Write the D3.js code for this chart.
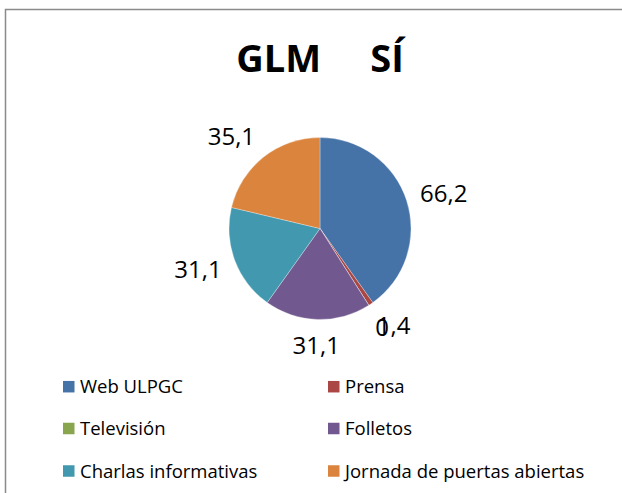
<!DOCTYPE html>
<html>
<head>
<meta charset="utf-8">
<script src="https://cdn.jsdelivr.net/npm/d3@7"></script>
<style>
    body { margin: 0; background: #fff; }
    svg text { font-family: "Open Sans", sans-serif; white-space: pre; }
</style>
</head>
<body>
<div id="chart"></div>
<script>

// Data
const title = "GLM     SÍ";
const categories = ["Web ULPGC", "Prensa", "Televisión", "Folletos",
                    "Charlas informativas", "Jornada de puertas abiertas"];
const values = [66.2, 1.4, 0, 31.1, 31.1, 35.1];
const colors = ["#4572A7", "#AA4643", "#89A54E", "#71588F", "#4198AF", "#DB843D"];

const width = 622, height = 493;
const cx = 320, cy = 228.5, radius = 91;

const svg = d3.select("#chart")
    .append("svg")
        .attr("width", width)
        .attr("height", height);

// Chart frame (only top and left edges are visible)
svg.append("path")
    .attr("d", "M5.5," + height + "V9.5H" + width)
    .attr("fill", "none")
    .attr("stroke", "#8a8a8a")
    .attr("stroke-width", 1.5);

// Title
svg.append("text")
    .attr("x", 320)
    .attr("y", 72)
    .attr("text-anchor", "middle")
    .attr("font-size", 38)
    .attr("font-weight", "bold")
    .attr("fill", "#000")
    .text(title);

let data = categories.map((c, i) => ({ name: c, value: values[i], color: colors[i] }));

let pie = d3.pie()
    .sort(null)
    .value(d => d.value);

let arc = d3.arc()
    .innerRadius(0)
    .outerRadius(radius);

let arcs = pie(data);

let g = svg.append("g")
    .attr("transform", "translate(" + cx + "," + cy + ")");

g.selectAll("path")
    .data(arcs)
    .enter().append("path")
        .attr("d", arc)
        .attr("fill", d => d.data.color)
        .attr("stroke", "#fff")
        .attr("stroke-opacity", 0.5)
        .attr("stroke-width", 0.6);

// Data labels, placed outside the slice like Excel does
let fmt = d3.formatLocale({decimal: ",", thousands: ".", grouping: [3], currency: ["", "€"]})
    .format("~g");

let gap = 14, hh = 12;
let clamp = v => Math.max(-1, Math.min(1, v));

g.selectAll("text.label")
    .data(arcs)
    .enter().append("text")
        .attr("class", "label")
        .attr("font-size", 24)
        .attr("fill", "#000")
        .attr("text-anchor", "middle")
        .attr("dy", "0.36em")
        .text(d => fmt(d.data.value))
        .each(function(d) {
            let a = (d.startAngle + d.endAngle) / 2;
            let hw = this.getComputedTextLength() / 2;
            let r = radius + gap;
            let x = r * Math.sin(a) + hw * clamp(1.6 * Math.sin(a));
            let y = -r * Math.cos(a) - hh * Math.cos(a);
            d3.select(this).attr("x", x).attr("y", y);
        });

// Legend
let colX = [63, 328];
let rowY = [386.7, 428.5, 471];
let box = 11.5;

let legend = svg.append("g")
    .selectAll("g")
    .data(data)
    .enter().append("g")
        .attr("transform", (d, i) => "translate(" + colX[i % 2] + "," + rowY[Math.floor(i / 2)] + ")");

legend.append("rect")
    .attr("x", 0)
    .attr("y", -box / 2)
    .attr("width", box)
    .attr("height", box)
    .attr("fill", d => d.color);

legend.append("text")
    .attr("x", 17)
    .attr("dy", "0.36em")
    .attr("font-size", 18.5)
    .attr("fill", "#000")
    .text(d => d.name);

</script>
</body>
</html>
